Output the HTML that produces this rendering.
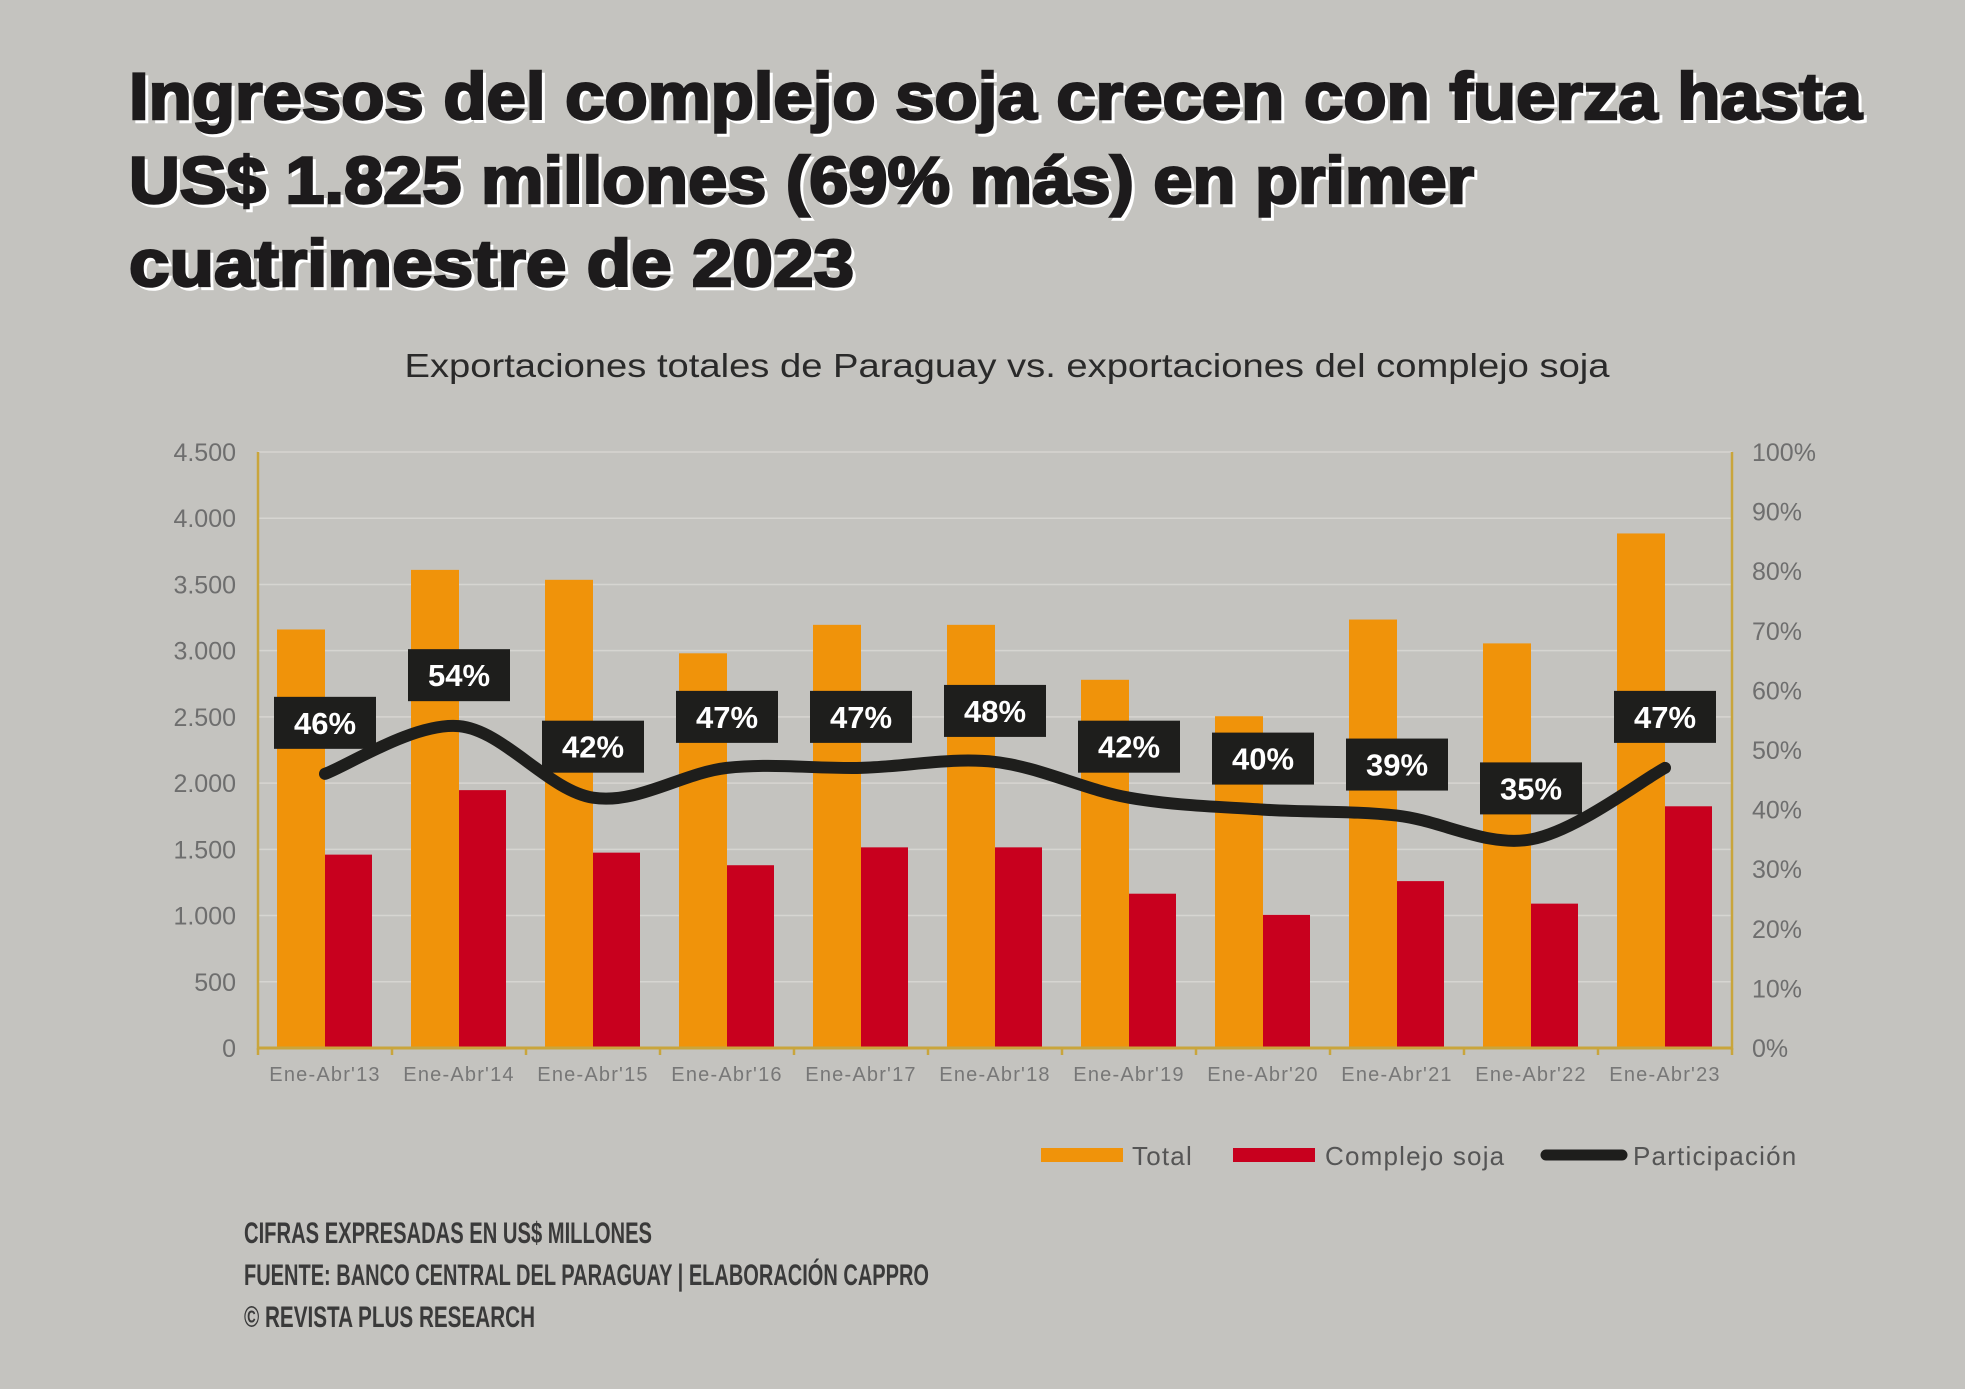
<!DOCTYPE html>
<html><head><meta charset="utf-8">
<style>
html,body{margin:0;padding:0;background:#c4c3bf;}
svg{display:block;}
</style></head>
<body>
<svg id="chart" width="1965" height="1389" viewBox="0 0 1965 1389" xmlns="http://www.w3.org/2000/svg">
<rect x="0" y="0" width="1965" height="1389" fill="#c4c3bf"/>
<g font-family="'Liberation Sans', sans-serif" font-weight="900" font-size="66" fill="#1d1b1c" stroke="#1d1b1c" stroke-width="2.5" style="paint-order:stroke">
 <g transform="translate(3,3)" fill="#ffffff" stroke="#ffffff">
  <text x="129" y="119" textLength="1733" lengthAdjust="spacingAndGlyphs">Ingresos del complejo soja crecen con fuerza hasta</text>
  <text x="129" y="203" textLength="1345" lengthAdjust="spacingAndGlyphs">US$ 1.825 millones (69% más) en primer</text>
  <text x="129" y="286" textLength="725" lengthAdjust="spacingAndGlyphs">cuatrimestre de 2023</text>
 </g>
 <text x="129" y="119" textLength="1733" lengthAdjust="spacingAndGlyphs">Ingresos del complejo soja crecen con fuerza hasta</text>
 <text x="129" y="203" textLength="1345" lengthAdjust="spacingAndGlyphs">US$ 1.825 millones (69% más) en primer</text>
 <text x="129" y="286" textLength="725" lengthAdjust="spacingAndGlyphs">cuatrimestre de 2023</text>
</g>
<text x="1007" y="377" text-anchor="middle" font-family="'Liberation Sans', sans-serif" font-size="33" fill="#2a2a2a" textLength="1205" lengthAdjust="spacingAndGlyphs">Exportaciones totales de Paraguay vs. exportaciones del complejo soja</text>
<g id="grid"></g>
<g id="bars"></g>
<g id="axes"></g>
<g id="line"></g>
<g id="labels"></g>
<g font-family="'Liberation Sans', sans-serif" font-size="26" fill="#555" letter-spacing="1.2">
 <g>
  <rect x="1041" y="1148" width="82" height="14" fill="#f0930a"/>
  <text x="1132" y="1165">Total</text>
 </g>
 <g>
  <rect x="1233" y="1148" width="82" height="14" fill="#c8001e"/>
  <text x="1325" y="1165">Complejo soja</text>
 </g>
 <g>
  <line x1="1546" y1="1155" x2="1622" y2="1155" stroke="#1e1e1c" stroke-width="11" stroke-linecap="round"/>
  <text x="1633" y="1165">Participación</text>
 </g>
</g>
<g font-family="'Liberation Sans Narrow', 'Liberation Sans', sans-serif" font-weight="bold" font-size="30" fill="#3a3a3a">
 <text x="244" y="1243" textLength="408" lengthAdjust="spacingAndGlyphs">CIFRAS EXPRESADAS EN US$ MILLONES</text>
 <text x="244" y="1285" textLength="685" lengthAdjust="spacingAndGlyphs">FUENTE: BANCO CENTRAL DEL PARAGUAY  |  ELABORACIÓN CAPPRO</text>
 <text x="244" y="1327" textLength="291" lengthAdjust="spacingAndGlyphs">© REVISTA PLUS RESEARCH</text>
</g>
</svg>
<script>
const categories = ["Ene-Abr'13","Ene-Abr'14","Ene-Abr'15","Ene-Abr'16","Ene-Abr'17","Ene-Abr'18","Ene-Abr'19","Ene-Abr'20","Ene-Abr'21","Ene-Abr'22","Ene-Abr'23"];
const totalValues = [3160, 3610, 3535, 2980, 3195, 3195, 2780, 2505, 3235, 3055, 3885];
const sojaValues = [1460, 1947, 1475, 1380, 1515, 1515, 1165, 1005, 1260, 1090, 1825];
const participacion = [46, 54, 42, 47, 47, 48, 42, 40, 39, 35, 47];
const leftTicks = [0, 500, 1000, 1500, 2000, 2500, 3000, 3500, 4000, 4500];
const leftTickLabels = ["0","500","1.000","1.500","2.000","2.500","3.000","3.500","4.000","4.500"];
const rightTicks = [0,10,20,30,40,50,60,70,80,90,100];
const rightTickLabels = ["0%","10%","20%","30%","40%","50%","60%","70%","80%","90%","100%"];

const NS = "http://www.w3.org/2000/svg";
const X0 = 258, X1 = 1732, Y0 = 1048, YT = 452;
const band = (X1 - X0) / categories.length;
const yL = v => Y0 - v / 4500 * (Y0 - YT);
const yR = p => Y0 - p / 100 * (Y0 - YT);
const xC = i => X0 + band * (i + 0.5);
function mk(tag, attrs, parent){ const e = document.createElementNS(NS, tag); for (const k in attrs) e.setAttribute(k, attrs[k]); parent.appendChild(e); return e; }

const grid = document.getElementById('grid');
leftTicks.forEach((t, i) => {
  if (t > 0) {
    const l = mk('line', {x1: X0, x2: X1, y1: yL(t), y2: yL(t), stroke: '#d6d5d1', 'stroke-width': 1.5}, grid);
    
    
  }
  const tx = mk('text', {x: 236, y: yL(t) + 9, 'text-anchor': 'end', 'font-family': "'Liberation Sans', sans-serif", 'font-size': 25, fill: '#6e6e6e'}, grid);
  tx.textContent = leftTickLabels[i];
  
  
});
rightTicks.forEach((t, i) => {
  const tx = mk('text', {x: 1752, y: yR(t) + 9, 'font-family': "'Liberation Sans', sans-serif", 'font-size': 25, fill: '#6e6e6e'}, grid);
  tx.textContent = rightTickLabels[i];
  
  
});

const bars = document.getElementById('bars');
const bw = 48;
categories.forEach((c, i) => {
  const cx = xC(i);
  const b1 = mk('rect', {x: cx - bw, y: yL(totalValues[i]), width: bw, height: Y0 - yL(totalValues[i]), fill: '#f0930a'}, bars);
  
  
  const b2 = mk('rect', {x: cx, y: yL(sojaValues[i]), width: bw - 1, height: Y0 - yL(sojaValues[i]), fill: '#c8001e'}, bars);
  
  
  const xl = mk('text', {x: cx, y: 1081, 'text-anchor': 'middle', 'font-family': "'Liberation Sans', sans-serif", 'font-size': 20, fill: '#777', 'letter-spacing': 1.2}, bars);
  xl.textContent = c;
  
  
});

const axes = document.getElementById('axes');
const axL = mk('line', {x1: X0, x2: X0, y1: YT, y2: Y0 + 2, stroke: '#c9a53c', 'stroke-width': 2.5}, axes);


const axR = mk('line', {x1: X1, x2: X1, y1: YT, y2: Y0 + 2, stroke: '#c9a53c', 'stroke-width': 2.5}, axes);


const axB = mk('line', {x1: X0, x2: X1, y1: Y0, y2: Y0, stroke: '#c9a53c', 'stroke-width': 3}, axes);


for (let i = 0; i <= categories.length; i++) {
  const tk = mk('line', {x1: X0 + band * i, x2: X0 + band * i, y1: Y0, y2: Y0 + 7, stroke: '#c9a53c', 'stroke-width': 2.5}, axes);
  
  
}

const pts = participacion.map((p, i) => [xC(i), yR(p)]);
let d = `M${pts[0][0]},${pts[0][1]}`;
for (let i = 0; i < pts.length - 1; i++) {
  const p0 = pts[Math.max(0, i - 1)], p1 = pts[i], p2 = pts[i + 1], p3 = pts[Math.min(pts.length - 1, i + 2)];
  const t = 0.5 / 3;
  const c1 = [p1[0] + (p2[0] - p0[0]) * t, p1[1] + (p2[1] - p0[1]) * t];
  const c2 = [p2[0] - (p3[0] - p1[0]) * t, p2[1] - (p3[1] - p1[1]) * t];
  d += ` C${c1[0]},${c1[1]} ${c2[0]},${c2[1]} ${p2[0]},${p2[1]}`;
}
const lineG = document.getElementById('line');
const path = mk('path', {d: d, fill: 'none', stroke: '#1e1e1c', 'stroke-width': 12, 'stroke-linecap': 'round', 'stroke-linejoin': 'round'}, lineG);



const labels = document.getElementById('labels');
participacion.forEach((p, i) => {
  const cx = xC(i), y = yR(p);
  const g = mk('g', {}, labels);
  
  
  mk('rect', {x: cx - 51, y: y - 77, width: 102, height: 52, fill: '#1e1e1c'}, g);
  const t = mk('text', {x: cx, y: y - 40, 'text-anchor': 'middle', 'font-family': "'Liberation Sans', sans-serif", 'font-weight': 'bold', 'font-size': 31, fill: '#ffffff'}, g);
  t.textContent = p + '%';
});
</script>
</body></html>
